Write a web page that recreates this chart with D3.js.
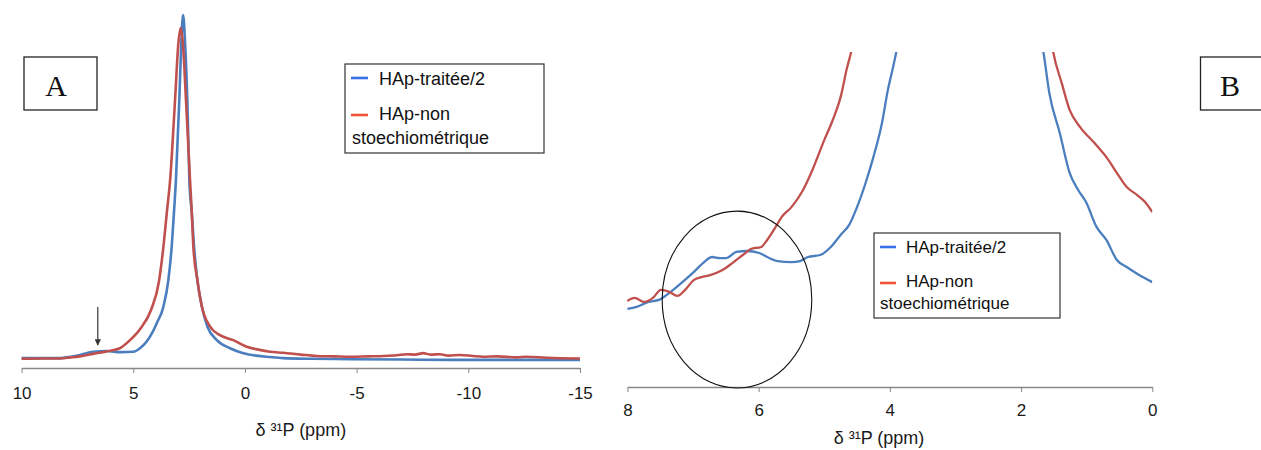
<!DOCTYPE html>
<html>
<head>
<meta charset="utf-8">
<script src="https://cdn.jsdelivr.net/npm/d3@7"></script>
<style>
  html, body { margin: 0; padding: 0; background: #ffffff; }
  svg { display: block; }
</style>
</head>
<body>
<svg id="chart" width="1261" height="450"></svg>
<script>
// ---------------- DATA ----------------
const seriesNames = ["HAp-traitée/2", "HAp-non stoechiométrique"];
const axisTitle = "δ ³¹P (ppm)";
const ticksA = [10, 5, 0, -5, -10, -15];
const ticksB = [8, 6, 4, 2, 0];

// Panel A: [chemical shift (ppm), relative intensity]
const blueA = [[10,2.8],[9,2.8],[8.28,2.8],[7.8,3.2],[7.38,3.7],[6.79,4.6],[6.19,4.8],[5.59,4.5],[5.0,4.6],
  [4.7,5.6],[4.4,7.5],[4.15,10],[3.95,12.7],[3.65,17.4],[3.43,24.9],[3.28,34.4],[3.18,43.9],[3.09,53.3],
  [2.94,75.9],[2.85,92],[2.77,100],[2.68,92],[2.58,75.9],[2.49,53.3],[2.38,43.9],[2.28,34.4],[2.13,24.9],
  [1.93,17.4],[1.68,11.7],[1.26,7.9],[0.67,5.6],[0.07,4.2],[-0.5,3.5],[-1.12,3.1],[-1.71,2.8],[-3,2.6],
  [-4.71,2.5],[-7,2.4],[-9.19,2.3],[-12,2.3],[-15,2.3]];
const redA = [[10,2.6],[9,2.7],[8.3,2.7],[7.8,3.0],[7.4,3.3],[6.8,4.0],[6.2,4.7],[5.6,5.6],[5.2,7.6],
  [4.7,11],[4.2,16.5],[3.85,24.5],[3.65,34.4],[3.5,43.9],[3.35,53.3],[3.13,75.9],[2.98,92],[2.88,96.3],
  [2.78,92],[2.64,75.9],[2.46,53.3],[2.38,43.9],[2.31,34.4],[2.13,24.9],[1.93,17.4],[1.56,11.7],[1.12,9.3],
  [0.52,7.9],[-0.08,6.0],[-0.6,5.2],[-1.12,4.6],[-1.71,4.3],[-2.5,3.8],[-3.2,3.4],[-4,3.3],[-4.71,3.2],
  [-5.5,3.3],[-6.2,3.4],[-6.8,3.6],[-7.25,3.9],[-7.6,3.8],[-7.99,4.2],[-8.3,3.8],[-8.74,3.9],[-9.1,3.5],
  [-9.63,3.7],[-10.2,3.4],[-10.68,3.2],[-11.3,3.3],[-12.17,3.0],[-12.6,3.2],[-13.5,2.9],[-15,2.7]];

// Panel B (zoom on the 8 - 0 ppm region)
const blueB = [[8.0,23.3],[7.86,23.9],[7.68,25.4],[7.52,26.0],[7.36,28.1],[7.18,31.0],[6.99,34.3],[6.83,37.3],
  [6.71,38.8],[6.59,38.5],[6.49,38.5],[6.34,40.3],[6.18,40.6],[5.99,40.0],[5.87,38.8],[5.71,37.6],[5.5,37.3],
  [5.37,37.6],[5.25,38.8],[5.06,39.4],[4.9,41.8],[4.75,45.4],[4.62,48.4],[4.5,53.7],[4.37,60.9],[4.25,68.7],
  [4.12,78.8],[4.03,88.7],[3.95,95.5],[3.88,102],[3.8,110],[2.8,1000],[1.75,108],[1.66,100],[1.57,87.8],
  [1.41,75.8],[1.26,63.9],[1.13,58.8],[1.01,55.2],[0.85,47.8],[0.7,43.9],[0.54,37.9],[0.39,35.8],[0.2,33.4],[0,31.3]];
const redB = [[8.0,25.7],[7.89,26.6],[7.74,25.4],[7.61,26.6],[7.49,29.0],[7.36,28.4],[7.24,27.2],[7.12,29.0],
  [6.99,31.9],[6.87,32.8],[6.74,33.4],[6.55,34.9],[6.4,37.0],[6.24,39.4],[6.12,41.2],[5.96,41.8],[5.87,43.9],
  [5.74,47.8],[5.65,50.7],[5.5,53.7],[5.34,58.2],[5.18,64.8],[5.0,73.7],[4.87,79.7],[4.75,86.6],[4.65,95.5],
  [4.59,100],[4.5,110],[2.9,1000],[1.6,112],[1.51,100],[1.38,90.7],[1.26,82.7],[1.1,77.6],[0.88,72.8],
  [0.67,67.8],[0.54,63.9],[0.39,59.7],[0.23,57.3],[0.11,55.2],[0,52.2]];

// Annotations: arrow position (ppm) in A; circled region in B (ppm / intensity)
const arrowPpmA = 6.59;
const circleB = { ppm: 6.33, halfWidthPpm: 1.14, value: 26.1, halfHeight: 26.4 };

// ---------------- STYLE ----------------
const lineBlue = "#4a7ebf", lineRed = "#c0504d";
const legBlue = "#3a6fe8", legRed = "#f0553a";
const axisGray = "#888888";
const SANS = "'Liberation Sans', Arial, sans-serif";
const SERIF = "'Liberation Serif', 'Times New Roman', serif";
const fmt = d => String(d);   // plain hyphen-minus like the original

const svg = d3.select("#chart");
const defs = svg.append("defs");

// ---------------- PANEL A ----------------
const xA = d3.scaleLinear().domain([10, -15]).range([21.6, 580]);
const yA = d3.scaleLinear().domain([0, 100]).range([368, 15]);
const lineA = d3.line().x(d => xA(d[0])).y(d => yA(d[1])).curve(d3.curveMonotoneX);

const gA = svg.append("g");
const axA = gA.append("g").attr("transform", "translate(0,368)")
  .call(d3.axisBottom(xA).tickValues(ticksA).tickFormat(fmt).tickSize(5).tickPadding(14).tickSizeOuter(0));
axA.select(".domain").attr("stroke", axisGray).attr("stroke-width", 1.5);
axA.selectAll(".tick line").attr("stroke", axisGray).attr("stroke-width", 1);
axA.selectAll(".tick text").style("font-size", "17px").style("font-family", SANS).attr("fill", "#1a1a1a");

gA.append("path").datum(blueA).attr("d", lineA).attr("fill", "none")
  .attr("stroke", lineBlue).attr("stroke-width", 2.6).attr("stroke-linejoin", "round");
gA.append("path").datum(redA).attr("d", lineA).attr("fill", "none")
  .attr("stroke", lineRed).attr("stroke-width", 2.6).attr("stroke-linejoin", "round");

gA.append("text").attr("x", (xA.range()[0] + xA.range()[1]) / 2).attr("y", 436)
  .attr("text-anchor", "middle").style("font-size", "18px").style("font-family", SANS)
  .attr("fill", "#1a1a1a").text(axisTitle);

// arrow
defs.append("marker").attr("id", "ah").attr("viewBox", "0 0 10 10").attr("refX", 9).attr("refY", 5)
  .attr("markerWidth", 5).attr("markerHeight", 5).attr("orient", "auto")
  .append("path").attr("d", "M0,0 L10,5 L0,10 z").attr("fill", "#333");
gA.append("line").attr("x1", xA(arrowPpmA)).attr("x2", xA(arrowPpmA))
  .attr("y1", 307).attr("y2", 345).attr("stroke", "#444").attr("stroke-width", 1.3)
  .attr("marker-end", "url(#ah)");

// label box A
gA.append("rect").attr("x", 24).attr("y", 57).attr("width", 73).attr("height", 53)
  .attr("fill", "#fff").attr("stroke", "#222").attr("stroke-width", 1.3);
gA.append("text").attr("x", 56).attr("y", 96).attr("text-anchor", "middle")
  .style("font-family", SERIF).style("font-size", "30px").attr("fill", "#111").text("A");

// legend helper
function legend(g, x, y, w, h, fs, rows) {
  g.append("rect").attr("x", x).attr("y", y).attr("width", w).attr("height", h)
    .attr("fill", "#fff").attr("stroke", "#333").attr("stroke-width", 1.2);
  rows.forEach(r => {
    if (r.color) {
      g.append("line").attr("x1", r.lx1).attr("x2", r.lx2).attr("y1", r.ly).attr("y2", r.ly)
        .attr("stroke", r.color).attr("stroke-width", 2.6);
    }
    g.append("text").attr("x", r.tx).attr("y", r.ty).style("font-size", fs + "px")
      .style("font-family", SANS).attr("fill", "#111")
      .attr("dominant-baseline", "middle").text(r.text);
  });
}
legend(gA, 345, 64, 199, 89, 18, [
  { color: legBlue, lx1: 351, lx2: 368, ly: 78, tx: 379, ty: 80, text: seriesNames[0] },
  { color: legRed, lx1: 351, lx2: 368, ly: 115, tx: 379, ty: 115, text: "HAp-non" },
  { tx: 352, ty: 139, text: "stoechiométrique" }
]);

// ---------------- PANEL B ----------------
const xB = d3.scaleLinear().domain([8, 0]).range([627.4, 1152.3]);
const yB = d3.scaleLinear().domain([0, 100]).range([387, 52]);
const lineB = d3.line().x(d => xB(d[0])).y(d => yB(d[1])).curve(d3.curveMonotoneX);

defs.append("clipPath").attr("id", "clipB").append("rect")
  .attr("x", xB.range()[0] - 2).attr("y", yB(100)).attr("width", xB.range()[1] - xB.range()[0] + 2)
  .attr("height", yB(0) - yB(100));

const gB = svg.append("g");
const axB = gB.append("g").attr("transform", "translate(0,387)")
  .call(d3.axisBottom(xB).tickValues(ticksB).tickFormat(fmt).tickSize(5).tickPadding(12).tickSizeOuter(0));
axB.select(".domain").attr("stroke", axisGray).attr("stroke-width", 1.5);
axB.selectAll(".tick line").attr("stroke", axisGray).attr("stroke-width", 1);
axB.selectAll(".tick text").style("font-size", "17px").style("font-family", SANS).attr("fill", "#1a1a1a");

const plotB = gB.append("g").attr("clip-path", "url(#clipB)");
plotB.append("path").datum(blueB).attr("d", lineB).attr("fill", "none")
  .attr("stroke", lineBlue).attr("stroke-width", 2.3).attr("stroke-linejoin", "round");
plotB.append("path").datum(redB).attr("d", lineB).attr("fill", "none")
  .attr("stroke", lineRed).attr("stroke-width", 2.3).attr("stroke-linejoin", "round");

gB.append("ellipse")
  .attr("cx", xB(circleB.ppm)).attr("cy", yB(circleB.value))
  .attr("rx", Math.abs(xB(circleB.ppm + circleB.halfWidthPpm) - xB(circleB.ppm)))
  .attr("ry", Math.abs(yB(circleB.value + circleB.halfHeight) - yB(circleB.value)))
  .attr("fill", "none").attr("stroke", "#111").attr("stroke-width", 1.1);

gB.append("text").attr("x", 879).attr("y", 444)
  .attr("text-anchor", "middle").style("font-size", "18px").style("font-family", SANS)
  .attr("fill", "#1a1a1a").text(axisTitle);

legend(gB, 874, 233, 186, 85, 17, [
  { color: legBlue, lx1: 880, lx2: 896, ly: 247, tx: 906, ty: 249, text: seriesNames[0] },
  { color: legRed, lx1: 880, lx2: 896, ly: 283, tx: 906, ty: 283, text: "HAp-non" },
  { tx: 880, ty: 305, text: "stoechiométrique" }
]);

// label box B
gB.append("rect").attr("x", 1200.5).attr("y", 57).attr("width", 73).attr("height", 53)
  .attr("fill", "#fff").attr("stroke", "#222").attr("stroke-width", 1.3);
gB.append("text").attr("x", 1230).attr("y", 96).attr("text-anchor", "middle")
  .style("font-family", SERIF).style("font-size", "30px").attr("fill", "#111").text("B");
</script>
</body>
</html>
